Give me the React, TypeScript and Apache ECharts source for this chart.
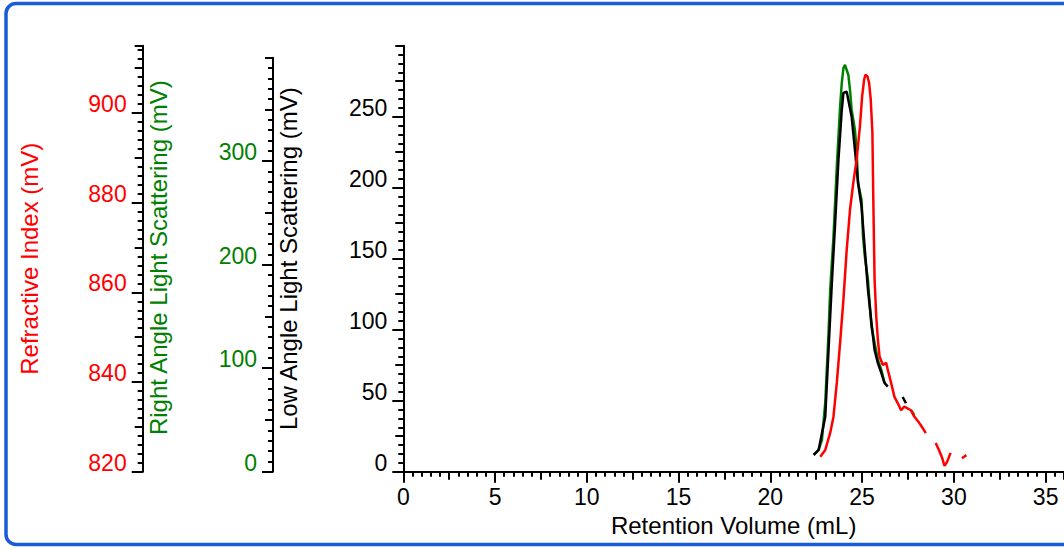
import React, { useEffect, useRef } from "react";
import * as echarts from "echarts";

// ---------------- data ----------------
// Low Angle Light Scattering (mV) – black trace, main axis
const lalsX = [22.36, 22.63, 22.99, 23.17, 23.35, 23.53, 23.71, 23.89, 23.98, 24.16, 24.25, 24.43, 24.61, 24.78, 24.97, 25.15, 25.32, 25.51, 25.68, 25.86, 26.05, 26.22, 26.4, 26.8, 27.21, 27.39];
const lalsY = [11.8, 15.3, 38.7, 85.7, 132.9, 175.1, 219.5, 254.7, 266.7, 267.6, 261.8, 250, 226.5, 203.3, 186.6, 156.1, 128, 104.7, 85.7, 76.5, 69.5, 62.5, 59.9, null, 52.6, 48.2];

// Right Angle Light Scattering (mV) – green trace
const ralsX = [22.36, 22.63, 22.81, 22.99, 23.17, 23.26, 23.44, 23.62, 23.8, 23.89, 23.98, 24.07, 24.16, 24.25, 24.34, 24.43, 24.61, 24.7, 24.78, 24.97, 25.05, 25.15, 25.32, 25.41, 25.51, 25.68, 25.86, 26.05, 26.22, 26.9, 27.66, 27.84];
const ralsY = [16.1, 21.0, 30.7, 66.4, 134.0, 175.6, 227.1, 294.7, 352.7, 375.3, 389.9, 393.0, 388.1, 383.3, 368.8, 349.5, 330.1, 310.8, 278.9, 262.5, 227.1, 207.7, 185.2, 163.0, 140.1, 124.3, 107.9, 98.2, 85.7, null, 59.6, 54.8];

// Refractive Index (mV) – red trace
const riX = [22.72, 22.99, 23.26, 23.44, 23.62, 23.8, 23.98, 24.16, 24.34, 24.52, 24.7, 24.88, 25.0, 25.11, 25.18, 25.29, 25.38, 25.47, 25.56, 25.61, 25.68, 25.77, 25.86, 25.95, 26.13, 26.31, 26.4, 26.58, 26.76, 26.94, 27.12, 27.3, 27.66, 27.84, 28.11, 28.29, 28.47, 28.7, 29.01, 29.19, 29.36, 29.49, 29.63, 29.82, 30.1, 30.44, 30.68];
const riY = [823.35, 824.84, 828.64, 832.28, 839.8, 848.73, 858.33, 869.49, 878.42, 884.44, 889.58, 897.0, 903.7, 907.4, 908.5, 908.2, 906.7, 903.0, 895.6, 880.6, 862.8, 854.6, 849.4, 845.7, 843.8, 844.3, 842.7, 839.8, 836.7, 835.3, 833.7, 834.5, 833.7, 832.3, 830.9, 829.8, 828.6, null, 826.4, 824.8, 823.1, 821.3, 822.2, 824.2, null, 823.0, 823.7];

// axis ranges / tick steps [major, medium, minor]
const xRange = [0, 36];
const xStep = [5, 2.5, 0.5];
const lalsRange = [0, 300];
const lalsStep = [50, 25, 6.25];
const ralsRange = [0, 400];
const ralsStep = [100, 50, 10];
const riRange = [820, 915];
const riStep = [20, 10, 2];

// ---------------- styling ----------------
const FONT = "'Liberation Sans', Arial, Helvetica, sans-serif";
const BLACK = "#000000";
const RED = "#ff0000";
const GREEN = "#008000";
const BLUE = "#1a5cd8";

const GRID_LEFT = 403.3;
const GRID_W = 668;
const AXIS_Y = 471.7;
const MAIN_TOP = 45.7;
const GREEN_TOP = 57.7;
const RI_AXIS_X = 142.7;
const RALS_AXIS_X = 273;

const LABEL_SIZE = 23;
const NAME_SIZE = 24;

function pairs(xs: number[], ys: (number | null)[]) {
  return xs.map((x, i) => [x, ys[i] === null ? "-" : ys[i]]);
}

function tickOnlyY(gridIndex: number, range: number[], interval: number, offset: number, len: number) {
  return {
    type: "value",
    gridIndex,
    position: "left",
    offset,
    min: range[0],
    max: range[1],
    interval,
    axisLine: { show: false, onZero: false },
    axisLabel: { show: false },
    axisTick: { show: true, inside: false, length: len, lineStyle: { color: BLACK, width: 2 } },
    splitLine: { show: false },
  };
}

function mainY(
  gridIndex: number,
  range: number[],
  interval: number,
  offset: number,
  color: string,
  name: string,
  nameGap: number,
  namePadding: number[] = [0, 0, 0, 0]
) {
  return {
    type: "value",
    gridIndex,
    position: "left",
    offset,
    min: range[0],
    max: range[1],
    interval,
    name,
    nameLocation: "middle",
    nameGap,
    nameTextStyle: { color, fontSize: NAME_SIZE, fontFamily: FONT, padding: namePadding },
    axisLine: { show: true, onZero: false, lineStyle: { color: BLACK, width: 2 } },
    axisTick: { show: true, inside: false, length: 11, lineStyle: { color: BLACK, width: 2 } },
    axisLabel: {
      show: true,
      color,
      fontSize: LABEL_SIZE,
      fontFamily: FONT,
      margin: 16,
      verticalAlign: "bottom",
      lineHeight: 18,
      showMaxLabel: false,
    },
    splitLine: { show: false },
  };
}

function tickOnlyX(gridIndex: number, interval: number, len: number) {
  return {
    type: "value",
    gridIndex,
    position: "bottom",
    min: xRange[0],
    max: xRange[1],
    interval,
    axisLine: { show: false, onZero: false },
    axisLabel: { show: false },
    axisTick: { show: true, inside: false, length: len, lineStyle: { color: BLACK, width: 2 } },
    splitLine: { show: false },
  };
}

export default function App() {
  const ref = useRef<HTMLDivElement>(null);

  useEffect(() => {
    if (!ref.current) return;
    const chart = echarts.init(ref.current, undefined, { renderer: "svg" });

    const option: any = {
      animation: false,
      backgroundColor: "#ffffff",
      textStyle: { fontFamily: FONT },
      grid: [
        { left: GRID_LEFT, top: MAIN_TOP, width: GRID_W, height: AXIS_Y - MAIN_TOP, containLabel: false },
        { left: GRID_LEFT, top: GREEN_TOP, width: GRID_W, height: AXIS_Y - GREEN_TOP, containLabel: false },
      ],
      xAxis: [
        {
          type: "value",
          gridIndex: 0,
          position: "bottom",
          min: xRange[0],
          max: xRange[1],
          interval: xStep[0],
          name: "Retention Volume (mL)",
          nameLocation: "middle",
          nameGap: 40,
          nameTextStyle: { color: BLACK, fontSize: NAME_SIZE, fontFamily: FONT },
          axisLine: { show: true, onZero: false, lineStyle: { color: BLACK, width: 2 } },
          axisTick: { show: true, inside: false, length: 11, lineStyle: { color: BLACK, width: 2 } },
          axisLabel: { show: true, color: BLACK, fontSize: LABEL_SIZE, fontFamily: FONT, margin: 14, showMaxLabel: false },
          splitLine: { show: false },
        },
        tickOnlyX(0, xStep[1], 8),
        tickOnlyX(0, xStep[2], 5),
        { type: "value", gridIndex: 1, show: false, min: xRange[0], max: xRange[1] },
      ],
      yAxis: [
        mainY(0, lalsRange, lalsStep[0], 0, BLACK, "Low Angle Light Scattering (mV)", 103),
        mainY(0, riRange, riStep[0], GRID_LEFT - RI_AXIS_X, RED, "Refractive Index (mV)", 101),
        mainY(1, ralsRange, ralsStep[0], GRID_LEFT - RALS_AXIS_X, GREEN, "Right Angle Light Scattering (mV)", 103, [0, 0, 0, 14]),
        tickOnlyY(0, lalsRange, lalsStep[1], 0, 8),
        tickOnlyY(0, lalsRange, lalsStep[2], 0, 5),
        tickOnlyY(0, riRange, riStep[1], GRID_LEFT - RI_AXIS_X, 8),
        tickOnlyY(0, riRange, riStep[2], GRID_LEFT - RI_AXIS_X, 5),
        tickOnlyY(1, ralsRange, ralsStep[1], GRID_LEFT - RALS_AXIS_X, 8),
        tickOnlyY(1, ralsRange, ralsStep[2], GRID_LEFT - RALS_AXIS_X, 5),
      ],
      series: [
        {
          name: "Right Angle Light Scattering",
          type: "line",
          xAxisIndex: 3,
          yAxisIndex: 2,
          data: pairs(ralsX, ralsY),
          showSymbol: false,
          symbol: "none",
          connectNulls: false,
          lineStyle: { color: GREEN, width: 2.5 },
          z: 2,
        },
        {
          name: "Low Angle Light Scattering",
          type: "line",
          xAxisIndex: 0,
          yAxisIndex: 0,
          data: pairs(lalsX, lalsY),
          showSymbol: false,
          symbol: "none",
          connectNulls: false,
          lineStyle: { color: BLACK, width: 2.5 },
          z: 3,
        },
        {
          name: "Refractive Index",
          type: "line",
          xAxisIndex: 0,
          yAxisIndex: 1,
          data: pairs(riX, riY),
          showSymbol: false,
          symbol: "none",
          connectNulls: false,
          lineStyle: { color: RED, width: 2.5 },
          z: 4,
        },
      ],
      graphic: [
        {
          type: "rect",
          silent: true,
          z: 100,
          shape: { x: 6, y: 3.5, width: 1200, height: 541, r: 10 },
          style: { fill: "none", stroke: BLUE, lineWidth: 3.5 },
        },
      ],
    };

    chart.setOption(option);
    return () => chart.dispose();
  }, []);

  return (
    <div
      ref={ref}
      style={{ position: "absolute", left: 0, top: 0, width: 1064, height: 550, background: "#fff" }}
    />
  );
}
